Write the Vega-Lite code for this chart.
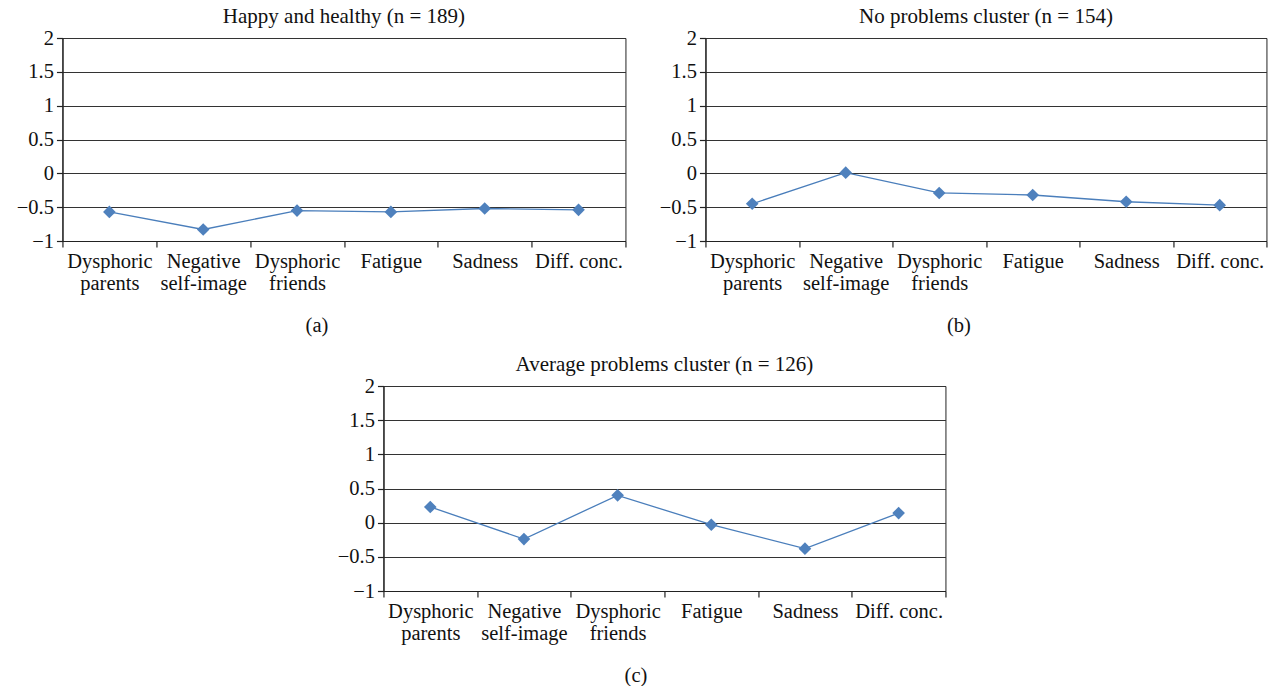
{
  "$schema": "https://vega.github.io/schema/vega-lite/v6.json",
  "background": "white",
  "padding": {"left": 15, "top": 5, "right": 5, "bottom": 0},
  "data": {"values": [
    {"panel": "a", "item": "Dysphoric parents", "value": -0.57},
    {"panel": "a", "item": "Negative self-image", "value": -0.83},
    {"panel": "a", "item": "Dysphoric friends", "value": -0.55},
    {"panel": "a", "item": "Fatigue", "value": -0.57},
    {"panel": "a", "item": "Sadness", "value": -0.52},
    {"panel": "a", "item": "Diff. conc.", "value": -0.54},
    {"panel": "b", "item": "Dysphoric parents", "value": -0.45},
    {"panel": "b", "item": "Negative self-image", "value": 0.01},
    {"panel": "b", "item": "Dysphoric friends", "value": -0.29},
    {"panel": "b", "item": "Fatigue", "value": -0.32},
    {"panel": "b", "item": "Sadness", "value": -0.42},
    {"panel": "b", "item": "Diff. conc.", "value": -0.47},
    {"panel": "c", "item": "Dysphoric parents", "value": 0.23},
    {"panel": "c", "item": "Negative self-image", "value": -0.24},
    {"panel": "c", "item": "Dysphoric friends", "value": 0.4},
    {"panel": "c", "item": "Fatigue", "value": -0.03},
    {"panel": "c", "item": "Sadness", "value": -0.38},
    {"panel": "c", "item": "Diff. conc.", "value": 0.14}
  ]},
  "config": {
    "font": "Liberation Serif",
    "view": {"stroke": "#222", "strokeWidth": 1},
    "axis": {
      "labelFont": "Liberation Serif", "labelFontSize": 20.5, "labelColor": "#111",
      "titleFont": "Liberation Serif", "titleFontSize": 20.5, "titleFontWeight": "normal", "titleColor": "#111",
      "domainColor": "#222", "tickColor": "#222", "gridColor": "#333", "gridOpacity": 1,
      "domainWidth": 1.2, "tickWidth": 1.2
    },
    "title": {"font": "Liberation Serif", "fontSize": 21, "fontWeight": "normal", "color": "#111", "offset": 1}
  },
  "spacing": 16,
  "center": true,
  "vconcat": [
    {
      "hconcat": [
        {
          "width": 563, "height": 203,
          "title": "Happy and healthy (n = 189)",
          "transform": [{"filter": "datum.panel == 'a'"}],
          "encoding": {
            "x": {"field": "item", "type": "nominal",
              "sort": ["Dysphoric parents", "Negative self-image", "Dysphoric friends", "Fatigue", "Sadness", "Diff. conc."],
              "scale": {"type": "band", "paddingInner": 0, "paddingOuter": 0},
              "axis": {"title": "(a)", "labelAngle": 0, "tickBand": "extent", "tickSize": 6, "labelPadding": 4,
                "labelExpr": "!isValid(datum.value) ? '' : datum.value == 'Diff. conc.' ? datum.value : split(datum.value, ' ')",
                "labelLineHeight": 22, "labelOverlap": false, "labelLimit": 0, "titlePadding": 22, "titleX": 254}},
            "y": {"field": "value", "type": "quantitative",
              "scale": {"domain": [-1, 2], "nice": false, "zero": false},
              "axis": {"title": null, "values": [-1, -0.5, 0, 0.5, 1, 1.5, 2], "format": "~g", "grid": true, "tickSize": 6, "labelPadding": 3}}
          },
          "layer": [
            {"mark": {"type": "line", "color": "#4a7ebb", "strokeWidth": 1.3}},
            {"mark": {"type": "point", "shape": "diamond", "filled": true, "color": "#4f81bd", "size": 160, "opacity": 1}}
          ]
        },
        {
          "width": 561, "height": 203,
          "title": "No problems cluster (n = 154)",
          "transform": [{"filter": "datum.panel == 'b'"}],
          "encoding": {
            "x": {"field": "item", "type": "nominal",
              "sort": ["Dysphoric parents", "Negative self-image", "Dysphoric friends", "Fatigue", "Sadness", "Diff. conc."],
              "scale": {"type": "band", "paddingInner": 0, "paddingOuter": 0},
              "axis": {"title": "(b)", "labelAngle": 0, "tickBand": "extent", "tickSize": 6, "labelPadding": 4,
                "labelExpr": "!isValid(datum.value) ? '' : datum.value == 'Diff. conc.' ? datum.value : split(datum.value, ' ')",
                "labelLineHeight": 22, "labelOverlap": false, "labelLimit": 0, "titlePadding": 22, "titleX": 253}},
            "y": {"field": "value", "type": "quantitative",
              "scale": {"domain": [-1, 2], "nice": false, "zero": false},
              "axis": {"title": null, "values": [-1, -0.5, 0, 0.5, 1, 1.5, 2], "format": "~g", "grid": true, "tickSize": 6, "labelPadding": 3}}
          },
          "layer": [
            {"mark": {"type": "line", "color": "#4a7ebb", "strokeWidth": 1.3}},
            {"mark": {"type": "point", "shape": "diamond", "filled": true, "color": "#4f81bd", "size": 160, "opacity": 1}}
          ]
        }
      ],
      "spacing": 31
    },
    {
      "width": 562, "height": 205,
      "title": "Average problems cluster (n = 126)",
      "transform": [{"filter": "datum.panel == 'c'"}],
      "encoding": {
        "x": {"field": "item", "type": "nominal",
          "sort": ["Dysphoric parents", "Negative self-image", "Dysphoric friends", "Fatigue", "Sadness", "Diff. conc."],
          "scale": {"type": "band", "paddingInner": 0, "paddingOuter": 0},
          "axis": {"title": "(c)", "labelAngle": 0, "tickBand": "extent", "tickSize": 6, "labelPadding": 4,
            "labelExpr": "!isValid(datum.value) ? '' : datum.value == 'Diff. conc.' ? datum.value : split(datum.value, ' ')",
            "labelLineHeight": 22, "labelOverlap": false, "labelLimit": 0, "titlePadding": 22, "titleX": 252}},
        "y": {"field": "value", "type": "quantitative",
          "scale": {"domain": [-1, 2], "nice": false, "zero": false},
          "axis": {"title": null, "values": [-1, -0.5, 0, 0.5, 1, 1.5, 2], "format": "~g", "grid": true, "tickSize": 6, "labelPadding": 3}}
      },
      "layer": [
        {"mark": {"type": "line", "color": "#4a7ebb", "strokeWidth": 1.3}},
        {"mark": {"type": "point", "shape": "diamond", "filled": true, "color": "#4f81bd", "size": 160, "opacity": 1}}
      ]
    }
  ]
}
